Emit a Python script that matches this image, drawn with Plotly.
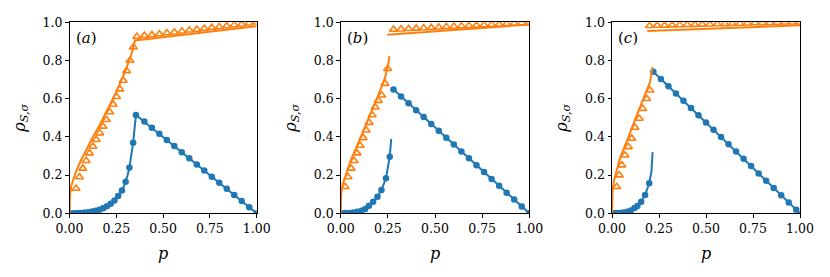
import plotly.graph_objects as go

BLUE = "#1f77b4"
ORANGE = "#ff7f0e"

# ---------------- Panel (a) ----------------
a_blue_line_p = [0, 0.05, 0.10, 0.15, 0.20, 0.25, 0.26, 0.27, 0.28, 0.29, 0.30, 0.31, 0.32, 0.33, 0.34, 0.345, 0.355, 1.0]
a_blue_line_v = [0, 0.002, 0.006, 0.015, 0.037, 0.078, 0.09, 0.104, 0.12, 0.14, 0.165, 0.198, 0.24, 0.30, 0.37, 0.42, 0.515, 0.0]
a_blue_dot_p = [0, 0.02, 0.04, 0.06, 0.08, 0.10, 0.12, 0.14, 0.16, 0.18, 0.20, 0.22, 0.24, 0.26, 0.28, 0.30, 0.32, 0.34, 0.355,
                0.40, 0.44, 0.48, 0.52, 0.56, 0.60, 0.64, 0.68, 0.72, 0.76, 0.80, 0.84, 0.88, 0.92, 0.96, 1.0]
a_blue_dot_v = [0, 0.0005, 0.001, 0.002, 0.004, 0.006, 0.009, 0.013, 0.019, 0.027, 0.037, 0.05, 0.067, 0.09, 0.12, 0.165, 0.24, 0.37, 0.515,
                0.48, 0.448, 0.416, 0.384, 0.352, 0.32, 0.288, 0.256, 0.224, 0.192, 0.16, 0.128, 0.096, 0.064, 0.032, 0.0]
a_orange_line_p = [0, 0.003, 0.01, 0.02, 0.035, 0.06, 0.09, 0.12, 0.16, 0.20, 0.25, 0.30, 0.33, 0.35, 1.0]
a_orange_line_v = [0, 0.10, 0.145, 0.18, 0.22, 0.275, 0.335, 0.39, 0.46, 0.535, 0.635, 0.75, 0.83, 0.905, 0.98]
a_tri_p = [0.035, 0.053, 0.071, 0.089, 0.107, 0.125, 0.143, 0.161, 0.179, 0.197, 0.215, 0.233, 0.251, 0.269, 0.287, 0.305, 0.323, 0.341,
           0.36, 0.40, 0.44, 0.48, 0.52, 0.56, 0.60, 0.64, 0.68, 0.72, 0.76, 0.80, 0.84, 0.88, 0.92, 0.96, 1.0]
a_tri_v = [0.13, 0.19, 0.235, 0.275, 0.315, 0.35, 0.385, 0.42, 0.455, 0.49, 0.53, 0.57, 0.61, 0.65, 0.695, 0.745, 0.80, 0.87,
           0.925, 0.93, 0.934, 0.939, 0.944, 0.948, 0.953, 0.958, 0.962, 0.967, 0.972, 0.976, 0.981, 0.986, 0.99, 0.995, 1.0]

# ---------------- Panel (b) ----------------
b_blue_rise_p = [0, 0.05, 0.10, 0.146, 0.172, 0.195, 0.216, 0.24, 0.26, 0.265, 0.268]
b_blue_rise_v = [0, 0.004, 0.015, 0.04, 0.06, 0.087, 0.122, 0.183, 0.296, 0.35, 0.39]
b_blue_fall_p = [0.28, 1.0]
b_blue_fall_v = [0.648, 0.0]
b_blue_dot_p = [0, 0.022, 0.044, 0.066, 0.088, 0.11, 0.13, 0.15, 0.172, 0.195, 0.216, 0.24, 0.26,
                0.28, 0.32, 0.36, 0.40, 0.44, 0.48, 0.52, 0.56, 0.60, 0.64, 0.68, 0.72, 0.76, 0.80, 0.84, 0.88, 0.92, 0.96, 1.0]
b_blue_dot_v = [0, 0.001, 0.002, 0.004, 0.008, 0.013, 0.022, 0.04, 0.06, 0.087, 0.122, 0.183, 0.296,
                0.648, 0.612, 0.576, 0.54, 0.504, 0.468, 0.432, 0.396, 0.36, 0.324, 0.288, 0.252, 0.216, 0.18, 0.144, 0.108, 0.072, 0.036, 0.0]
b_orange_rise_p = [0, 0.003, 0.01, 0.025, 0.05, 0.10, 0.15, 0.20, 0.235, 0.25, 0.258]
b_orange_rise_v = [0, 0.10, 0.15, 0.20, 0.27, 0.385, 0.50, 0.62, 0.71, 0.77, 0.823]
b_orange_top_p = [0.247, 1.0]
b_orange_top_v = [0.935, 0.988]
b_tri_p = [0.023, 0.039, 0.055, 0.071, 0.087, 0.103, 0.119, 0.135, 0.151, 0.167, 0.183, 0.199, 0.217, 0.235, 0.249,
           0.28, 0.32, 0.36, 0.40, 0.44, 0.48, 0.52, 0.56, 0.60, 0.64, 0.68, 0.72, 0.76, 0.80, 0.84, 0.88, 0.92, 0.96, 1.0]
b_tri_v = [0.139, 0.19, 0.235, 0.275, 0.315, 0.355, 0.395, 0.435, 0.475, 0.515, 0.555, 0.59, 0.618, 0.679, 0.757,
           0.962, 0.964, 0.966, 0.968, 0.97, 0.972, 0.974, 0.976, 0.978, 0.98, 0.982, 0.984, 0.986, 0.988, 0.99, 0.992, 0.994, 0.996, 0.998]

# ---------------- Panel (c) ----------------
c_blue_rise_p = [0, 0.05, 0.08, 0.10, 0.12, 0.14, 0.152, 0.176, 0.198, 0.21, 0.216]
c_blue_rise_v = [0, 0.004, 0.01, 0.018, 0.03, 0.045, 0.058, 0.096, 0.157, 0.22, 0.32]
c_blue_fall_p = [0.22, 1.0]
c_blue_fall_v = [0.741, 0.0]
c_blue_dot_p = [0, 0.02, 0.04, 0.06, 0.08, 0.10, 0.12, 0.135, 0.155, 0.176, 0.198,
                0.22, 0.26, 0.30, 0.34, 0.38, 0.42, 0.46, 0.50, 0.54, 0.58, 0.62, 0.66, 0.70, 0.74, 0.78, 0.82, 0.86, 0.90, 0.94, 0.98]
c_blue_dot_v = [0, 0.001, 0.002, 0.004, 0.008, 0.015, 0.028, 0.038, 0.06, 0.096, 0.157,
                0.741, 0.703, 0.665, 0.627, 0.589, 0.551, 0.513, 0.475, 0.437, 0.399, 0.361, 0.323, 0.285, 0.247, 0.209, 0.171, 0.133, 0.095, 0.057, 0.019]
c_orange_rise_p = [0, 0.003, 0.01, 0.025, 0.043, 0.08, 0.113, 0.14, 0.167, 0.202, 0.216]
c_orange_rise_v = [0, 0.12, 0.17, 0.22, 0.29, 0.38, 0.47, 0.535, 0.60, 0.687, 0.766]
c_orange_top_p = [0.188, 1.0]
c_orange_top_v = [0.954, 0.984]
c_tri_p = [0.025, 0.039, 0.052, 0.069, 0.087, 0.105, 0.122, 0.145, 0.163, 0.185, 0.202,
           0.20, 0.24, 0.28, 0.32, 0.36, 0.40, 0.44, 0.48, 0.52, 0.56, 0.60, 0.64, 0.68, 0.72, 0.76, 0.80, 0.84, 0.88, 0.92, 0.96, 1.0]
c_tri_v = [0.139, 0.20, 0.252, 0.304, 0.348, 0.392, 0.449, 0.496, 0.548, 0.60, 0.644,
           0.982, 0.983, 0.984, 0.985, 0.986, 0.987, 0.988, 0.989, 0.99, 0.991, 0.992, 0.993, 0.994, 0.995, 0.996, 0.997, 0.998, 0.999, 1.0, 1.0, 1.0]

x_ticks = [0, 0.25, 0.5, 0.75, 1.0]
x_ticklabels = ["0.00", "0.25", "0.50", "0.75", "1.00"]
y_ticks = [0, 0.2, 0.4, 0.6, 0.8, 1.0]
y_ticklabels = ["0.0", "0.2", "0.4", "0.6", "0.8", "1.0"]
panel_labels = ["(<i>a</i>)", "(<i>b</i>)", "(<i>c</i>)"]

W, H = 830, 277
OFF = 8  # page body margin
FONT = "DejaVu Serif"

fig = go.Figure()

def line(x, y, color, ax):
    fig.add_trace(go.Scatter(x=x, y=y, mode="lines", line=dict(color=color, width=2),
                             xaxis="x" + ax, yaxis="y" + ax, showlegend=False, hoverinfo="skip"))

def dots(x, y, ax):
    fig.add_trace(go.Scatter(x=x, y=y, mode="markers",
                             marker=dict(color=BLUE, size=6.5, symbol="circle", line=dict(width=0)),
                             xaxis="x" + ax, yaxis="y" + ax, showlegend=False))

def tris(x, y, ax):
    fig.add_trace(go.Scatter(x=x, y=y, mode="markers",
                             marker=dict(color=ORANGE, size=7, symbol="triangle-up-open", line=dict(width=1.6, color=ORANGE)),
                             xaxis="x" + ax, yaxis="y" + ax, showlegend=False))

line(a_blue_line_p, a_blue_line_v, BLUE, "")
dots(a_blue_dot_p, a_blue_dot_v, "")
line(a_orange_line_p, a_orange_line_v, ORANGE, "")
tris(a_tri_p, a_tri_v, "")
line(b_blue_rise_p, b_blue_rise_v, BLUE, "2")
line(b_blue_fall_p, b_blue_fall_v, BLUE, "2")
dots(b_blue_dot_p, b_blue_dot_v, "2")
line(b_orange_rise_p, b_orange_rise_v, ORANGE, "2")
line(b_orange_top_p, b_orange_top_v, ORANGE, "2")
tris(b_tri_p, b_tri_v, "2")
line(c_blue_rise_p, c_blue_rise_v, BLUE, "3")
line(c_blue_fall_p, c_blue_fall_v, BLUE, "3")
dots(c_blue_dot_p, c_blue_dot_v, "3")
line(c_orange_rise_p, c_orange_rise_v, ORANGE, "3")
line(c_orange_top_p, c_orange_top_v, ORANGE, "3")
tris(c_tri_p, c_tri_v, "3")

x_px = [(69.5, 256.7), (340.7, 529.3), (612.0, 800.0)]
y_dom = [(H - (213.3 - OFF)) / H, (H - (22.3 - OFF)) / H]

def xaxis(i):
    return dict(domain=[(x_px[i][0] - OFF) / W, (x_px[i][1] - OFF) / W], range=[0, 1],
                anchor="y" + ("" if i == 0 else str(i + 1)), automargin=False,
                tickvals=x_ticks, ticktext=x_ticklabels, ticks="outside", ticklen=3.5, tickwidth=1, tickcolor="black",
                showline=True, linecolor="black", linewidth=1, mirror=True, showgrid=False, zeroline=False,
                tickfont=dict(family=FONT, size=12.5, color="black"),
                title=dict(text="<i>p</i>", font=dict(family=FONT, size=16, color="black"), standoff=13))

def yaxis(i):
    return dict(domain=list(y_dom), range=[0, 1], anchor="x" + ("" if i == 0 else str(i + 1)), automargin=False,
                tickvals=y_ticks, ticktext=y_ticklabels, ticks="outside", ticklen=3.5, tickwidth=1, tickcolor="black",
                showline=True, linecolor="black", linewidth=1, mirror=True, showgrid=False, zeroline=False,
                tickfont=dict(family=FONT, size=12.5, color="black"),
                title=dict(text="<i>ρ</i><sub><i>S,σ</i></sub>", font=dict(family=FONT, size=16, color="black"), standoff=13))

annotations = []
for i in range(3):
    sfx = "" if i == 0 else str(i + 1)
    annotations.append(dict(text=panel_labels[i], x=0.022, y=0.975, xref="x" + sfx + " domain", yref="y" + sfx + " domain",
                            xanchor="left", yanchor="top", showarrow=False,
                            font=dict(family=FONT, size=15, color="black")))

fig.update_layout(
    width=W, height=H, margin=dict(l=0, r=0, t=0, b=0),
    paper_bgcolor="white", plot_bgcolor="white",
    font=dict(family=FONT, color="black"),
    xaxis=xaxis(0), xaxis2=xaxis(1), xaxis3=xaxis(2),
    yaxis=yaxis(0), yaxis2=yaxis(1), yaxis3=yaxis(2),
    annotations=annotations, showlegend=False,
)

fig.write_html("out.html")
